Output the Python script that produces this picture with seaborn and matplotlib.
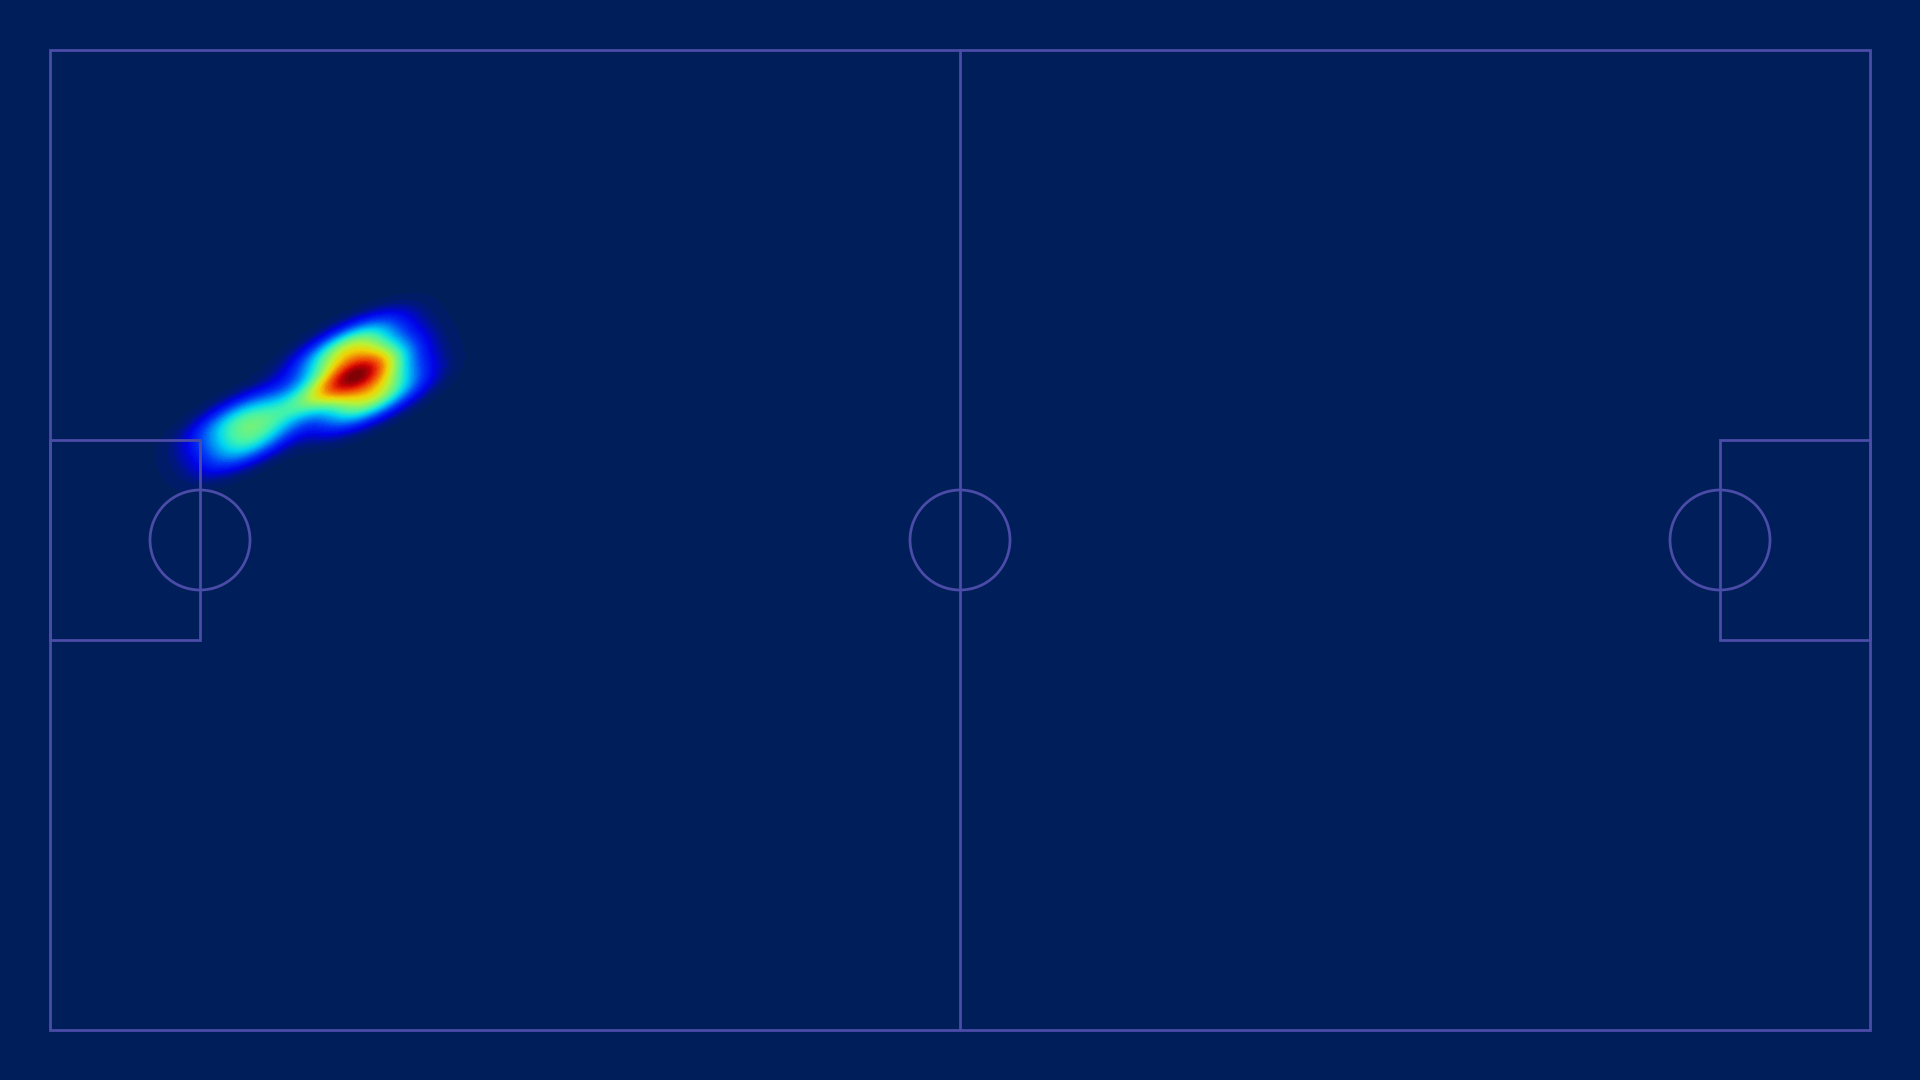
import numpy as np
import matplotlib
import matplotlib.pyplot as plt
import seaborn as sns
from matplotlib.colors import LinearSegmentedColormap, to_rgb
from matplotlib.patches import Rectangle, Circle

# -------------------------------
# Data: touch locations (pitch units, 91 x 49)
# -------------------------------
touch_x = [15.5, 15.1, 14.8, 14.4, 14.1,
           16.2, 15.8, 15.5, 15.5, 15.5, 15.1, 14.8,
           16.9, 16.6, 16.2, 15.9, 15.5,
           13.6, 12.4,
           9.8, 9.4, 9.0, 10.5, 10.1, 9.8]
touch_y = [31.1, 31.8, 32.5, 33.2, 33.9,
           31.4, 32.1, 32.8, 32.9, 32.8, 33.6, 34.3,
           31.8, 32.5, 33.2, 33.9, 34.6,
           31.9, 31.3,
           29.1, 29.8, 30.5, 29.5, 30.2, 30.9]

PITCH_LEN = 91
PITCH_WID = 49
BOX_DEPTH = 7.5
BOX_WIDTH = 10
SPOT_R = 2.5

BG = "#001e5a"
LINE = "#4b4ba8"

sns.set_style("white")

fig = plt.figure(figsize=(19.2, 10.8), dpi=100, facecolor=BG)
ax = fig.add_axes([0, 0, 1, 1])
ax.set_facecolor(BG)

# colormap: background -> lightly muted jet
jet = matplotlib.colormaps["jet"]
bg_rgb = np.array(to_rgb(BG))
jet_cols = [0.94 * np.array(jet(v)[:3]) + 0.06 * bg_rgb for v in np.linspace(0.1, 1.0, 12)]
cmap = LinearSegmentedColormap.from_list("pitch_jet", [bg_rgb] + jet_cols)

sns.kdeplot(x=touch_x, y=touch_y, fill=True, levels=100, thresh=0.005,
            cmap=cmap, ax=ax, zorder=1)

# -------------------------------
# Pitch markings
# -------------------------------
lw = 2
ax.add_patch(Rectangle((0, 0), PITCH_LEN, PITCH_WID, fill=False, ec=LINE, lw=lw, zorder=3))
ax.plot([PITCH_LEN / 2, PITCH_LEN / 2], [0, PITCH_WID], color=LINE, lw=lw, zorder=3)
mid_y = PITCH_WID / 2
ax.add_patch(Rectangle((0, mid_y - BOX_WIDTH / 2), BOX_DEPTH, BOX_WIDTH,
                       fill=False, ec=LINE, lw=lw, zorder=3))
ax.add_patch(Rectangle((PITCH_LEN - BOX_DEPTH, mid_y - BOX_WIDTH / 2), BOX_DEPTH, BOX_WIDTH,
                       fill=False, ec=LINE, lw=lw, zorder=3))
for cx in [BOX_DEPTH, PITCH_LEN / 2, PITCH_LEN - BOX_DEPTH]:
    ax.add_patch(Circle((cx, mid_y), SPOT_R, fill=False, ec=LINE, lw=lw, zorder=3))

ax.set_xlim(-2.5, PITCH_LEN + 2.5)
ax.set_ylim(-2.5, PITCH_WID + 2.5)
ax.set_aspect("equal")
ax.axis("off")

fig.savefig("out.png", dpi=100, facecolor=BG)
